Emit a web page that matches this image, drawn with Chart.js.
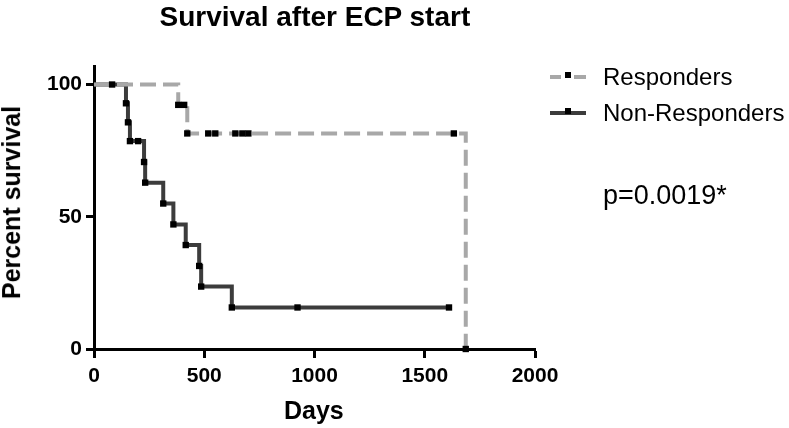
<!DOCTYPE html>
<html>
<head>
<meta charset="utf-8">
<script src="https://cdn.jsdelivr.net/npm/chart.js@4/dist/chart.umd.min.js"></script>
<style>
  body { margin: 0; background: #fff; }
  #wrap { position: relative; width: 789px; height: 428px; overflow: hidden; font-family: "Liberation Sans", Arial, sans-serif; }
  canvas { position: absolute; left: 0; top: 0; }
  .lbl { position: absolute; white-space: nowrap; color: #000; line-height: 1; }
  .sample { position: absolute; height: 0; }
  .mark { position: absolute; width: 6px; height: 6px; background: #000; }
</style>
</head>
<body>
<div id="wrap">
  <canvas id="km" width="789" height="428"></canvas>
  <div class="lbl" id="title" style="font-weight:bold;font-size:28px;">Survival after ECP start</div>
  <div class="lbl" id="ytitle" style="font-weight:bold;font-size:25px;">Percent survival</div>
  <div class="lbl" id="xtitle" style="font-weight:bold;font-size:25px;">Days</div>
  <div class="sample" style="left:550px;top:75px;width:11px;border-top:4px solid #a8a8a8;"></div>
  <div class="sample" style="left:574px;top:75px;width:12px;border-top:4px solid #a8a8a8;"></div>
  <div class="mark" style="left:565px;top:72px;"></div>
  <div class="lbl" style="left:603px;top:65px;font-size:24px;">Responders</div>
  <div class="sample" style="left:550px;top:111px;width:36px;border-top:4px solid #3c3c3c;"></div>
  <div class="mark" style="left:565px;top:108px;"></div>
  <div class="lbl" style="left:603px;top:101px;font-size:24px;">Non-Responders</div>
  <div class="lbl" style="left:603px;top:182px;font-size:27px;">p=0.0019*</div>
</div>
<script>
// Kaplan-Meier points (day, percent survival)
const respDays = [0, 82, 382, 409, 423, 518, 550, 641, 673, 700, 1632, 1686];
const respSurv = [100, 100, 92.3, 92.3, 81.5, 81.5, 81.5, 81.5, 81.5, 81.5, 81.5, 0];

const nonRespDays = [0, 145, 154, 163, 200, 227, 232, 314, 360, 416, 477, 486, 625, 923, 1610];
const nonRespSurv = [100, 92.9, 85.7, 78.6, 78.6, 70.7, 62.9, 55.0, 47.1, 39.3, 31.4, 23.6, 15.7, 15.7, 15.7];

const xTicks = [0, 500, 1000, 1500, 2000];
const yTicks = [0, 50, 100];

function toPoints(days, surv) {
  return days.map((d, i) => ({ x: d, y: surv[i] }));
}

// place a centred html label
function centre(id, cx, cy, rotate) {
  const el = document.getElementById(id);
  const w = el.offsetWidth, h = el.offsetHeight;
  el.style.left = (cx - w / 2) + 'px';
  el.style.top = (cy - h / 2) + 'px';
  if (rotate) el.style.transform = 'rotate(-90deg)';
}

const tickFont = { family: '"Liberation Sans", Arial, sans-serif', size: 21, weight: 'bold' };

const ctx = document.getElementById('km').getContext('2d');
const chart = new Chart(ctx, {
  type: 'line',
  data: {
    datasets: [{
      label: 'Responders',
      data: toPoints(respDays, respSurv),
      stepped: true,
      borderColor: '#a8a8a8',
      borderWidth: 4,
      borderDash: [16, 7],
      pointStyle: 'rect',
      pointRadius: ctx => ctx.dataIndex === 0 ? 0 : 4.5,
      pointBackgroundColor: '#000',
      pointBorderWidth: 0,
      clip: false
    }, {
      label: 'Non-Responders',
      data: toPoints(nonRespDays, nonRespSurv),
      stepped: true,
      borderColor: '#3c3c3c',
      borderWidth: 4,
      pointStyle: 'rect',
      pointRadius: ctx => ctx.dataIndex === 0 ? 0 : 4.5,
      pointBackgroundColor: '#000',
      pointBorderWidth: 0,
      clip: false
    }]
  },
  options: {
    responsive: false,
    animation: false,
    layout: { padding: { top: 66, right: 254, left: 0, bottom: 0 } },
    plugins: { legend: { display: false }, tooltip: { enabled: false } },
    scales: {
      x: {
        type: 'linear',
        min: 0,
        max: 2000,
        afterBuildTicks: scale => { scale.ticks = xTicks.map(v => ({ value: v })); },
        afterFit: scale => { scale.height = 79; },
        ticks: { color: '#000', font: tickFont, padding: 6, maxRotation: 0, callback: v => String(v) },
        grid: { drawOnChartArea: false, tickLength: 9, tickWidth: 3, tickColor: '#000' },
        border: { color: '#000', width: 3 }
      },
      y: {
        min: 0,
        max: 107,
        afterBuildTicks: scale => { scale.ticks = yTicks.map(v => ({ value: v })); },
        afterFit: scale => { scale.width = 94; },
        ticks: { color: '#000', font: tickFont, padding: 4, callback: v => String(v) },
        grid: { drawOnChartArea: false, tickLength: 8, tickWidth: 3, tickColor: '#000' },
        border: { color: '#000', width: 3 }
      }
    }
  }
});

centre('title', 315, 17);
centre('ytitle', 11, 202, true);
centre('xtitle', 314, 410);
</script>
</body>
</html>
